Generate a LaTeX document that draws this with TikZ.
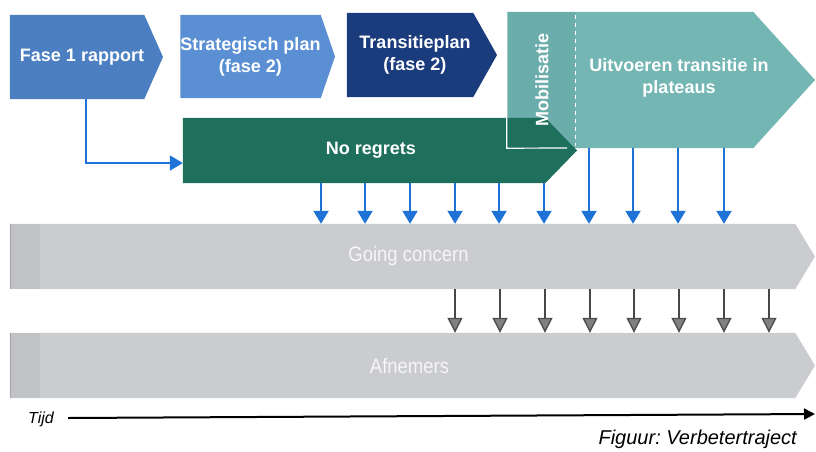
\documentclass[tikz,border=0pt]{standalone}
\usepackage{fontspec}
\setmainfont{Liberation Sans}
\newfontfamily\narrowfont[FakeStretch=0.88]{Liberation Sans}
\usetikzlibrary{arrows.meta,backgrounds}
\frenchspacing
\definecolor{fblue}{HTML}{4C7FC2}
\definecolor{sblue}{HTML}{5A90D3}
\definecolor{navy}{HTML}{1B3C7C}
\definecolor{dgreen}{HTML}{1E6F5B}
\definecolor{teal1}{HTML}{74B6B3}
\definecolor{teal2}{HTML}{6BADAA}
\definecolor{barg}{HTML}{CBCCD0}
\definecolor{bargd}{HTML}{C1C2C5}
\definecolor{arrblue}{HTML}{1F73D7}
\newcommand\chevfill[3]{\fill[#2] (#1.north west) -- (#1.north east) -- (#3) -- (#1.south east) -- (#1.south west) -- cycle;}
\tikzset{
  body/.style={inner sep=0pt, text=white, font=\bfseries\fontsize{18}{22}\selectfont, align=center},
  barbody/.style={inner sep=0pt, text=white!93!gray, font=\narrowfont\fontsize{21}{24}\selectfont},
  bluearr/.style={draw=arrblue, line width=2pt, -{Triangle[length=13pt,width=15pt]}},
  grayarr/.style={draw=black!72, line width=1.3pt, -{Triangle[length=15pt,width=15pt,fill=black!50,color=black!70]}},
}
\begin{document}
\begin{tikzpicture}[x=1pt,y=-1pt]
\useasboundingbox (0,0) rectangle (816,451);
% nodes (bodies of chevrons)
\node[body, minimum width=130pt, minimum height=84pt] (f1) at (77,57) {\hspace*{10pt}Fase 1 rapport};
\node[body, minimum width=135pt, minimum height=83pt] (sp) at (250.5,56.5) {Strategisch plan\\(fase 2)};
\node[body, minimum width=126pt, minimum height=84pt] (tp) at (410,55) {\hspace*{10pt}Transitieplan\\\hspace*{10pt}(fase 2)};
\node[minimum width=246pt, minimum height=136pt, inner sep=0pt] (big) at (630,80) {};
\node[body, rotate=90] (mob) at (542,80) {Mobilisatie};
\node[body] (uit) at (679,78) {Uitvoeren transitie in\\plateaus};
\node[body, minimum width=362pt, minimum height=65pt] (nr) at (364,150.5) {\hspace*{14pt}No regrets};
\node[barbody, minimum width=785pt, minimum height=65pt] (gc) at (402.5,256.5) {\hspace*{12pt}Going concern};
\node[barbody, minimum width=785pt, minimum height=65pt] (af) at (402.5,365.5) {\hspace*{14pt}Afnemers};
\begin{scope}[on background layer]
  \chevfill{f1}{fblue}{163,57}
  \chevfill{sp}{sblue}{335,56.5}
  \chevfill{tp}{navy}{497,55}
  \chevfill{big}{teal1}{815,80}
  \fill[teal2] (big.north west) rectangle (575,148);
  \chevfill{nr}{dgreen}{577,150.5}
  \draw[white, line width=1.2pt] (big.north west) -- (big.south west) -- (567,148);
  \draw[white, line width=1pt, dash pattern=on 4pt off 4pt] (575,15) -- (575,146);
  \chevfill{gc}{barg}{815,256.5}
  \fill[bargd] (gc.north west) rectangle (40,289);
  \draw[black!35, line width=0.6pt] (gc.north west) -- (gc.south west);
  \chevfill{af}{barg}{815,365.5}
  \fill[bargd] (af.north west) rectangle (40,398);
  \draw[black!35, line width=0.6pt] (af.north west) -- (af.south west);
\end{scope}
% connector Fase 1 -> No regrets
\coordinate (elbow) at (86,163);
\draw[bluearr] (elbow |- f1.south) -- (elbow) -- (elbow -| nr.west);
% arrows No regrets / big shape -> Going concern
\foreach \x in {321,365,410,455,499,544}{
  \coordinate (t) at (\x,0);
  \draw[bluearr] (t |- nr.south) -- (t |- gc.north);
}
\foreach \x in {589,633,678,724}{
  \coordinate (t) at (\x,0);
  \draw[bluearr] (t |- big.south) -- (t |- gc.north);
}
% arrows Going concern -> Afnemers
\foreach \x in {455,500,545,590,634,679,724,769}{
  \coordinate (t) at (\x,0);
  \draw[grayarr] (t |- gc.south) -- (t |- af.north);
}
% time axis
\node[font=\itshape\fontsize{16}{18}\selectfont, inner sep=1pt] (tijd) at (41,419) {Tijd};
\coordinate (tend) at (815,414);
\draw[line width=2pt, -{Triangle[length=11pt,width=11pt]}] ([xshift=13pt,yshift=1pt]tijd.east) -- (tend);
\node[anchor=base east, font=\itshape\fontsize{20}{22}\selectfont, inner sep=0pt] (fig) at (797,444) {Figuur: Verbetertraject};
\end{tikzpicture}
\end{document}
